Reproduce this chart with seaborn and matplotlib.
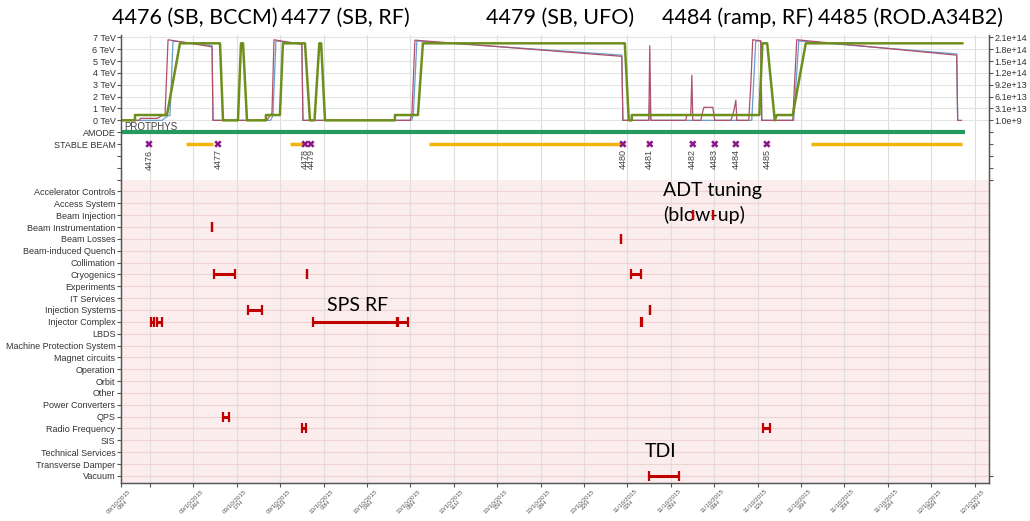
import matplotlib
matplotlib.use("Agg")
import matplotlib.pyplot as plt
import numpy as np
import pandas as pd
import seaborn as sns

# time axis: hours since 09/10/2015 08:00
tick_labels = ["09/10/2015\n08H", "",
               "09/10/2015\n14H", "09/10/2015\n17H", "09/10/2015\n21H",
               "10/10/2015\n00H", "10/10/2015\n04H", "10/10/2015\n08H",
               "10/10/2015\n11H", "10/10/2015\n15H", "10/10/2015\n18H",
               "10/10/2015\n22H", "11/10/2015\n02H", "11/10/2015\n05H",
               "11/10/2015\n09H", "11/10/2015\n12H", "11/10/2015\n16H",
               "11/10/2015\n20H", "11/10/2015\n23H", "12/10/2015\n03H",
               "12/10/2015\n06H"]

# beam energy (TeV)
energy_t = [0, 1.16, 1.16, 3.81, 4.89, 8.21, 8.46, 9.7, 9.95, 10.12, 10.45, 12.02, 12.02,
            13.18, 13.43, 15.26, 15.67, 16.05, 16.45, 16.6, 16.92, 22.72, 22.72, 24.63,
            25.04, 41.79, 42.12, 42.37, 42.37, 52.95, 53.2, 53.6, 54.23, 54.39, 55.72,
            56.8, 69.82]
energy_v = [0, 0, 0.45, 0.45, 6.5, 6.5, 0, 0, 6.5, 6.5, 0, 0, 0.45, 0.45, 6.5, 6.5, 0, 0,
            6.5, 6.5, 0, 0, 0.45, 0.45, 6.5, 6.5, 0, 0, 0.45, 0.45, 6.5, 6.5, 0, 0.45,
            0.45, 6.5, 6.5]

# beam intensities (1e14 protons)
b2_t = [0, 1.5, 1.6, 2.9, 3.0, 3.4, 3.65, 3.9, 7.55, 7.63, 12.1, 12.35, 12.52, 12.69,
        15.0, 15.09, 23.96, 24.13, 24.38, 41.54, 41.63, 43.78, 43.86, 43.95, 46.85, 46.93,
        47.26, 47.35, 47.43, 48.1, 48.18, 48.35, 49.09, 49.25, 50.58, 50.75, 50.91, 51.0,
        51.08, 52.07, 52.24, 52.4, 53.07, 53.15, 55.72, 56.05, 69.32, 69.4, 69.73]
b2_v = [0, 0, 0.05, 0.05, 0.05, 0.12, 0.12, 2.04, 1.86, 0, 0, 0.12, 0.18, 2.04,
        1.92, 0, 0, 0.15, 2.03, 1.62, 0, 0, 1.89, 0, 0, 0.135,
        0.135, 1.14, 0, 0, 0.135, 0.33, 0.33, 0, 0, 0.135, 0.36, 0.51,
        0, 0, 0.9, 2.04, 2.01, 0, 0, 2.04, 1.65, 0, 0]
b1_t = [0, 3.4, 3.9, 4.06, 4.31, 7.55, 7.63, 12.4, 12.6, 12.85, 15.0, 15.09, 24.1, 24.25,
        24.54, 41.54, 41.63, 43.78, 43.86, 43.95, 52.32, 52.65, 53.07, 53.15, 55.8, 56.22,
        69.32, 69.4]
b1_v = [0, 0, 0.12, 0.12, 2.01, 1.89, 0, 0, 0.12, 2.01, 1.94, 0, 0, 0.15,
        2.01, 1.65, 0, 0, 0.51, 0, 0, 2.01, 2.01, 0, 0, 2.01,
        1.68, 0]

amode_span = (0, 69.98)
stable_start = [5.39, 14.01, 25.54, 57.21]
stable_end = [7.63, 15.26, 41.54, 69.73]

fills = [4476, 4477, 4478, 4479, 4480, 4481, 4482, 4483, 4484, 4485]
fill_t = [2.32, 8.04, 15.26, 15.75, 41.63, 43.86, 47.43, 49.25, 51.0, 53.57]

categories = ["Accelerator Controls", "Access System", "Beam Injection",
              "Beam Instrumentation", "Beam Losses", "Beam-induced Quench",
              "Collimation", "Cryogenics", "Experiments", "IT Services",
              "Injection Systems", "Injector Complex", "LBDS",
              "Machine Protection System", "Magnet circuits", "Operation", "Orbit",
              "Other", "Power Converters", "QPS", "Radio Frequency", "SIS",
              "Technical Services", "Transverse Damper", "Vacuum"]

fault_system = ["Beam Instrumentation", "Beam Losses", "Cryogenics", "Cryogenics",
                "Cryogenics", "Injection Systems", "Injection Systems",
                "Injector Complex", "Injector Complex", "Injector Complex",
                "Injector Complex", "Injector Complex", "QPS", "Radio Frequency",
                "Radio Frequency", "Vacuum", "Beam Injection", "Beam Injection"]
fault_start = [7.55, 41.46, 7.71, 15.42, 42.29, 10.53, 43.86, 2.49, 2.99, 15.92, 22.97,
               43.16, 8.46, 15.01, 53.23, 43.78, 47.43, 49.09]
fault_end = [7.55, 41.46, 9.45, 15.42, 43.12, 11.69, 43.86, 2.74, 3.40, 22.89, 23.80,
             43.24, 8.96, 15.34, 53.81, 46.27, 47.43, 49.09]

titles = ["4476 (SB, BCCM)", "4477 (SB, RF)", "4479 (SB, UFO)", "4484 (ramp, RF)",
          "4485 (ROD.A34B2)"]
intensity_labels = ["2.1e+14", "1.8e+14", "1.5e+14", "1.2e+14", "9.2e+13", "6.1e+13",
                    "3.1e+13", "1.0e+9"]

sns.set_theme(style="ticks")
plt.rcParams["font.family"] = ["Liberation Sans", "DejaVu Sans"]

fig = plt.figure(figsize=(10.3, 5.21), dpi=100)
ax = fig.add_axes([0.1175, 0.0729, 0.8427, 0.8599])

x_max = 72
y_top, y_bot = 7.2, -30.6
ax.set_xlim(0, x_max)
ax.set_ylim(y_bot, y_top)

# background + grid
ax.axhspan(y_bot, -5, color="#fbeded", zorder=0, lw=0)
xticks = [0] + [2.4 + 3.6 * k for k in range(20)]
for xt in xticks[1:]:
    ax.axvline(xt, color="#dedede", lw=0.8, zorder=0.5)
ax.hlines(range(0, 8), 0, x_max, color="#e4e4e4", lw=0.8, zorder=0.5)
row_y = {c: -6 - i for i, c in enumerate(categories)}
ax.hlines(list(row_y.values()), 0, x_max, color="#efd3d3", lw=0.8, zorder=0.5)

# beam intensities and energy
scale = 7 / 2.1
sns.lineplot(x=b2_t, y=np.array(b2_v) * scale, ax=ax, estimator=None, sort=False,
             color="#b0506a", lw=0.9, zorder=3)
sns.lineplot(x=b1_t, y=np.array(b1_v) * scale, ax=ax, estimator=None, sort=False,
             color="#6a9ccc", lw=0.9, zorder=2)
sns.lineplot(x=energy_t, y=energy_v, ax=ax, estimator=None, sort=False,
             color="#6e8f1e", lw=1.8, zorder=4)

# accelerator mode
ax.hlines(-1, *amode_span, color="#259a5e", lw=3, zorder=3)
ax.text(0.25, -0.55, "PROTPHYS", fontsize=7, color="#444444", va="center", ha="left")

# stable beams + fills
ax.hlines([-2] * len(stable_start), stable_start, stable_end, color="#f4b40c", lw=2.5,
          zorder=3)
sns.scatterplot(x=fill_t, y=[-2] * len(fill_t), ax=ax, marker="X", color="#8b1a87",
                s=28, edgecolor="none", zorder=5)
for f, t in zip(fills, fill_t):
    ax.text(t, -2.45, str(f), rotation=90, ha="center", va="top", fontsize=6.5,
            color="#444444")

# faults
fdf = pd.DataFrame({"system": fault_system, "start": fault_start, "end": fault_end})
fdf["mid"] = (fdf["start"] + fdf["end"]) / 2
fdf["half"] = (fdf["end"] - fdf["start"]) / 2
fdf["y"] = fdf["system"].map(row_y)
ax.errorbar(fdf["mid"], fdf["y"], xerr=fdf["half"], fmt="none", ecolor="#c00000",
            elinewidth=2.2, capsize=3.5, capthick=1.6, zorder=4)

# annotations
ann_font = ["Lato", "DejaVu Sans"]
ax.text(44.94, -5.9, "ADT tuning", fontsize=14, family=ann_font, va="center", ha="left",
        color="black")
ax.text(44.94, -8.0, "(blow-up)", fontsize=14, family=ann_font, va="center", ha="left",
        color="black")
ax.text(19.65, -15.6, "SPS RF", fontsize=14, family=ann_font, va="center", ha="center",
        color="black")
ax.text(44.78, -27.96, "TDI", fontsize=14, family=ann_font, va="center", ha="center",
        color="black")

title_x = [195, 345, 560, 738, 911]
for tx, tt in zip(title_x, titles):
    fig.text(tx / 1030, 1 - 18 / 521, tt, fontsize=15.5, family=ann_font,
             ha="center", va="center", color="black")

# left axis
yticks = list(range(7, -6, -1)) + list(row_y.values())
ylabels = [f"{v} TeV" for v in range(7, -1, -1)] + ["AMODE", "STABLE BEAM", "", "", ""] \
    + categories
ax.set_yticks(yticks)
ax.set_yticklabels(ylabels)
ax.tick_params(axis="y", length=3, width=0.8, labelsize=6.5, labelcolor="#333333",
               color="#555555", pad=1)
ax.set_xticks(xticks)
ax.set_xticklabels(tick_labels, rotation=45, ha="center", va="top",
                   fontsize=4.5, color="#555555", multialignment="center",
                   linespacing=1.0)
ax.tick_params(axis="x", length=3, width=0.8, color="#555555", pad=1)

ax2 = ax.twinx()
ax2.set_ylim(y_bot, y_top)
ax2.set_yticks(list(range(7, -6, -1)) + [-30])
ax2.set_yticklabels(intensity_labels + [""] * 6)
ax2.tick_params(axis="y", length=3, width=0.8, labelsize=6.5, labelcolor="#333333",
                color="#555555", pad=1)

for a in (ax, ax2):
    a.spines["top"].set_visible(False)
    for s in ("left", "right", "bottom"):
        a.spines[s].set_color("#555555")
        a.spines[s].set_linewidth(0.9)

fig.savefig("out.png", dpi=100)
